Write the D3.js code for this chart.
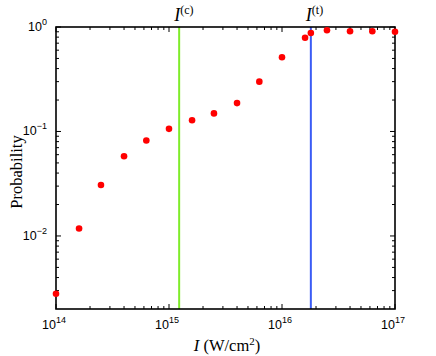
<!DOCTYPE html>
<html><head><meta charset="utf-8">
<script src="https://cdn.jsdelivr.net/npm/d3@7"></script>
<style>body{margin:0;background:#fff}svg{display:block}</style>
</head><body>
<svg id="c" width="436" height="356"></svg>
<script>
const intensity = [1e14, 1.6e14, 2.5e14, 4e14, 6.3e14, 1e15, 1.6e15, 2.5e15, 4e15, 6.3e15, 1e16, 1.6e16, 1.8e16, 2.5e16, 4e16, 6.3e16, 1e17];
const probability = [0.0028, 0.0118, 0.0307, 0.058, 0.082, 0.106, 0.128, 0.149, 0.187, 0.30, 0.514, 0.79, 0.877, 0.93, 0.91, 0.91, 0.90];
const criticalI = 1.23e15;
const thresholdI = 1.8e16;
const xTickExp = [14, 15, 16, 17];
const yTickExp = [0, -1, -2];

const svg = d3.select('#c');
const L = 56, R = 395, T = 27, B = 309;
const x = d3.scaleLog().domain([1e14, 1e17]).range([L, R]);
const y = d3.scaleLog().domain([0.002, 1]).range([B, T]);

// minor ticks
function minors(lo, hi) {
  const out = [];
  for (let e = Math.floor(Math.log10(lo)); e <= Math.ceil(Math.log10(hi)); e++) {
    for (let m = 2; m <= 9; m++) { const v = m * Math.pow(10, e); if (v > lo && v < hi) out.push(v); }
  }
  return out;
}
const xMin = minors(1e14, 1e17), yMin = minors(0.002, 1);
const xMaj = xTickExp.map(e => Math.pow(10, e)), yMaj = yTickExp.map(e => Math.pow(10, e));

const g = svg.append('g').attr('stroke', '#000').attr('stroke-width', 1);
xMaj.forEach(v => { g.append('line').attr('x1', x(v)).attr('x2', x(v)).attr('y1', B).attr('y2', B - 5);
  g.append('line').attr('x1', x(v)).attr('x2', x(v)).attr('y1', T).attr('y2', T + 5); });
xMin.forEach(v => { g.append('line').attr('x1', x(v)).attr('x2', x(v)).attr('y1', B).attr('y2', B - 3);
  g.append('line').attr('x1', x(v)).attr('x2', x(v)).attr('y1', T).attr('y2', T + 3); });
yMaj.forEach(v => { g.append('line').attr('y1', y(v)).attr('y2', y(v)).attr('x1', L).attr('x2', L + 5);
  g.append('line').attr('y1', y(v)).attr('y2', y(v)).attr('x1', R).attr('x2', R - 5); });
yMin.forEach(v => { g.append('line').attr('y1', y(v)).attr('y2', y(v)).attr('x1', L).attr('x2', L + 3);
  g.append('line').attr('y1', y(v)).attr('y2', y(v)).attr('x1', R).attr('x2', R - 3); });

// vertical lines
svg.append('line').attr('x1', x(criticalI)).attr('x2', x(criticalI)).attr('y1', T).attr('y2', B)
  .attr('stroke', '#7fec2a').attr('stroke-width', 2);
svg.append('line').attr('x1', x(thresholdI)).attr('x2', x(thresholdI)).attr('y1', T).attr('y2', B)
  .attr('stroke', '#3b5cf5').attr('stroke-width', 2);

// frame
svg.append('rect').attr('x', L).attr('y', T).attr('width', R - L).attr('height', B - T)
  .attr('fill', 'none').attr('stroke', '#000').attr('stroke-width', 1.6);

// points
svg.append('g').selectAll('circle').data(intensity).join('circle')
  .attr('cx', d => x(d)).attr('cy', (d, i) => y(probability[i])).attr('r', 3.3).attr('fill', '#ff0000');

// tick labels
const sans = 'Liberation Sans, Arial, sans-serif';
xTickExp.forEach(e => {
  const t = svg.append('text').attr('x', x(Math.pow(10, e)) - 2).attr('y', 329).attr('text-anchor', 'middle')
    .attr('font-family', sans).attr('font-size', 12.5).attr('fill', '#000');
  t.append('tspan').text('10');
  t.append('tspan').attr('dy', -6).attr('font-size', 9).text(e);
});
yTickExp.forEach(e => {
  const t = svg.append('text').attr('x', 47).attr('y', y(Math.pow(10, e)) + 4).attr('text-anchor', 'end')
    .attr('font-family', sans).attr('font-size', 12.5).attr('fill', '#000');
  t.append('tspan').text('10');
  t.append('tspan').attr('dy', -6).attr('font-size', 9).text(e === 0 ? '0' : '\u2212' + (-e));
});

// axis labels
const serif = 'Liberation Serif, Times New Roman, serif';
const xl = svg.append('text').attr('x', 227).attr('y', 351).attr('text-anchor', 'middle')
  .attr('font-family', serif).attr('font-size', 16.5).attr('fill', '#000');
xl.append('tspan').attr('font-style', 'italic').text('I');
xl.append('tspan').text(' (W/cm');
xl.append('tspan').attr('dy', -6).attr('font-size', 11).text('2');
xl.append('tspan').attr('dy', 6).text(')');

svg.append('text').attr('transform', 'translate(22,172) rotate(-90)').attr('text-anchor', 'middle')
  .attr('font-family', serif).attr('font-size', 16.5).attr('fill', '#000').text('Probability');

// top labels
function topLabel(v, sup) {
  const t = svg.append('text').attr('x', x(v) - 5).attr('y', 21).attr('text-anchor', 'start')
    .attr('font-family', serif).attr('font-size', 18).attr('fill', '#000');
  t.append('tspan').attr('font-style', 'italic').text('I');
  t.append('tspan').attr('dy', -7).attr('font-size', 12).text(sup);
}
topLabel(criticalI, '(c)');
topLabel(thresholdI, '(t)');
</script>
</body></html>
